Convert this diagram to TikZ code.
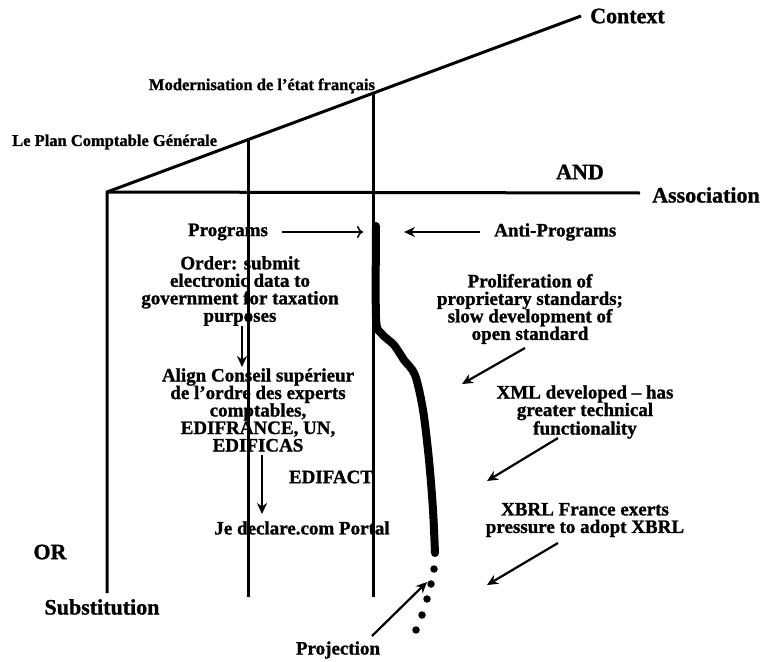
\documentclass[tikz,border=0pt]{standalone}
\usepackage{fontspec}
\setmainfont{Liberation Serif}[BoldFeatures={FakeBold=1.2}]
\usetikzlibrary{arrows.meta}
\begin{document}
\begin{tikzpicture}[x=1pt,y=-1pt,
  axis/.style={line width=3pt},
  txt/.style={font=\bfseries\fontsize{19}{17.5}\selectfont, align=center, inner sep=0pt},
  bigtxt/.style={font=\bfseries\fontsize{22}{22}\selectfont, inner sep=0pt},
  smalltxt/.style={font=\bfseries\fontsize{16.5}{16}\selectfont, inner sep=0pt},
  sarrow/.style={line width=2.2pt, -{Stealth[length=11pt,width=10pt]}},
  oarrow/.style={line width=1.6pt, -{To[length=6pt,width=12pt,line width=1.6pt]}},
  thickpath/.style={line width=8pt, line cap=round, line join=round},
  dot/.style={circle, fill=black, inner sep=0pt, minimum size=7.5pt}]
\useasboundingbox (0,0) rectangle (768,661);

% axes coordinates
\coordinate (o) at (107,192);
\coordinate (ctxend) at (581,16);
\coordinate (assocend) at (640,193);
\coordinate (obot) at (107,593);
\coordinate (lpctop) at (248,139);
\coordinate (lpcbot) at (248,597);
\coordinate (modtop) at (373,93);
\coordinate (modbot) at (373,597);

\draw[axis] (obot) -- (o) -- (ctxend);
\draw[axis] (o) -- (assocend);
\draw[axis] (lpctop) -- (lpcbot);
\draw[axis] (modtop) -- (modbot);

% labels on axes
\node[bigtxt, anchor=west] (ctx) at (590,16) {Context};
\node[smalltxt] (mod) at (262,86) {Modernisation de l'état français};
\node[smalltxt, anchor=west] (lpc) at (12,142) {Le Plan Comptable Générale};
\node[bigtxt] (and) at (580,172) {AND};
\node[bigtxt, anchor=west] (assoc) at (652,195) {Association};
\node[bigtxt] (or) at (50,552) {OR};
\node[bigtxt] (subst) at (102,607) {Substitution};

% programs / anti-programs
\node[txt] (prog) at (228,232) {Programs};
\node[txt, anchor=west] (anti) at (494,232) {Anti-Programs};
\coordinate (progtip) at (363,232);
\coordinate (antitip) at (404,232);
\draw[oarrow] (prog.east) ++(14,0) coordinate (progstart) -- (progtip);
\draw[sarrow] (anti.west) ++(-14,0) coordinate (antistart) -- (antitip);

% left column
\node[txt] (order) at (240,291) {Order: submit\\electronic data to\\government for taxation\\purposes};
\node[txt] (align) at (258,410) {Align Conseil supérieur\\de l'ordre des experts\\comptables,\\EDIFRANCE, UN,\\EDIFICAS};
\node[txt] (edifact) at (331,477) {EDIFACT};
\node[txt] (jedec) at (302,528) {Je declare.com Portal};
\coordinate (a1s) at (242,326);
\coordinate (a1e) at (242,367);
\coordinate (a2s) at (262,455);
\coordinate (a2e) at (262,514);
\draw[sarrow] (a1s) -- (a1e);
\draw[sarrow] (a2s) -- (a2e);

% thick trajectory
\draw[thickpath] plot[smooth, tension=0.5] coordinates {(376,226) (376,318) (381,333) (394,345) (404,360) (415,375) (423,410) (429,460) (433,510) (435,553)};
\node[dot] (d1) at (434,569) {};
\node[dot] (d2) at (431,584) {};
\node[dot] (d3) at (427,599) {};
\node[dot] (d4) at (422,615) {};
\node[dot] (d5) at (416,630) {};

% projection
\node[txt] (proj) at (338,650) {Projection};
\coordinate (projs) at (372,636);
\coordinate (proje) at (427,582);
\draw[sarrow] (projs) -- (proje);

% right column
\node[txt] (prolif) at (530,309) {Proliferation of\\proprietary standards;\\slow development of\\open standard};
\node[txt] (xml) at (585,412) {XML developed -- has\\greater technical\\functionality};
\node[txt] (xbrl) at (585,520) {XBRL France exerts\\pressure to adopt XBRL};
\coordinate (r1s) at (525,348);
\coordinate (r1e) at (462,384);
\coordinate (r2s) at (558,438);
\coordinate (r2e) at (487,481);
\coordinate (r3s) at (558,543);
\coordinate (r3e) at (487,585);
\draw[sarrow] (r1s) -- (r1e);
\draw[sarrow] (r2s) -- (r2e);
\draw[sarrow] (r3s) -- (r3e);
\end{tikzpicture}
\end{document}
